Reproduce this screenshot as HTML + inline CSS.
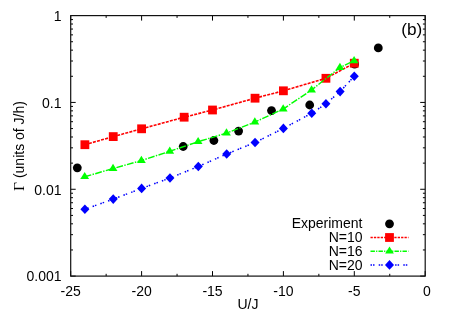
<!DOCTYPE html><html><head><meta charset="utf-8"><style>html,body{margin:0;padding:0;background:#fff;overflow:hidden}svg{display:block;will-change:transform}text{font-family:"Liberation Sans",sans-serif;font-size:14px;fill:#000}</style></head><body>
<svg width="450" height="314" viewBox="0 0 450 314">
<rect width="450" height="314" fill="#fff"/>
<path d="M70.70 276.10h5.00 M425.20 276.10h-5.00 M70.70 249.96h2.30 M425.20 249.96h-2.30 M70.70 234.67h2.30 M425.20 234.67h-2.30 M70.70 223.82h2.30 M425.20 223.82h-2.30 M70.70 215.41h2.30 M425.20 215.41h-2.30 M70.70 208.53h2.30 M425.20 208.53h-2.30 M70.70 202.72h2.30 M425.20 202.72h-2.30 M70.70 197.68h2.30 M425.20 197.68h-2.30 M70.70 193.24h2.30 M425.20 193.24h-2.30 M70.70 189.27h5.00 M425.20 189.27h-5.00 M70.70 163.13h2.30 M425.20 163.13h-2.30 M70.70 147.84h2.30 M425.20 147.84h-2.30 M70.70 136.99h2.30 M425.20 136.99h-2.30 M70.70 128.57h2.30 M425.20 128.57h-2.30 M70.70 121.70h2.30 M425.20 121.70h-2.30 M70.70 115.88h2.30 M425.20 115.88h-2.30 M70.70 110.85h2.30 M425.20 110.85h-2.30 M70.70 106.41h2.30 M425.20 106.41h-2.30 M70.70 102.43h5.00 M425.20 102.43h-5.00 M70.70 76.29h2.30 M425.20 76.29h-2.30 M70.70 61.00h2.30 M425.20 61.00h-2.30 M70.70 50.15h2.30 M425.20 50.15h-2.30 M70.70 41.74h2.30 M425.20 41.74h-2.30 M70.70 34.86h2.30 M425.20 34.86h-2.30 M70.70 29.05h2.30 M425.20 29.05h-2.30 M70.70 24.02h2.30 M425.20 24.02h-2.30 M70.70 19.57h2.30 M425.20 19.57h-2.30 M70.70 276.10v-5.00 M70.70 15.60v5.00 M106.15 276.10v-2.30 M106.15 15.60v2.30 M141.60 276.10v-5.00 M141.60 15.60v5.00 M177.05 276.10v-2.30 M177.05 15.60v2.30 M212.50 276.10v-5.00 M212.50 15.60v5.00 M247.95 276.10v-2.30 M247.95 15.60v2.30 M283.40 276.10v-5.00 M283.40 15.60v5.00 M318.85 276.10v-2.30 M318.85 15.60v2.30 M354.30 276.10v-5.00 M354.30 15.60v5.00 M389.75 276.10v-2.30 M389.75 15.60v2.30 M425.20 276.10v-5.00 M425.20 15.60v5.00" stroke="#000" stroke-width="1" fill="none"/>
<rect x="70.70" y="15.60" width="354.50" height="260.50" fill="none" stroke="#111" stroke-width="1.2"/>
<text x="61.5" y="281.40" text-anchor="end">0.001</text>
<text x="61.5" y="194.57" text-anchor="end">0.01</text>
<text x="61.5" y="107.73" text-anchor="end">0.1</text>
<text x="61.5" y="20.90" text-anchor="end">1</text>
<text x="70.70" y="296" text-anchor="middle">-25</text>
<text x="141.60" y="296" text-anchor="middle">-20</text>
<text x="212.50" y="296" text-anchor="middle">-15</text>
<text x="283.40" y="296" text-anchor="middle">-10</text>
<text x="354.30" y="296" text-anchor="middle">-5</text>
<text x="426.80" y="296" text-anchor="middle">0</text>
<text x="248" y="309.2" text-anchor="middle">U/J</text>
<text transform="translate(24.2 146) rotate(-90)" text-anchor="middle"><tspan font-family="Liberation Serif" style="font-size:15.5px">Γ</tspan> (units of J/h)</text>
<text x="422.3" y="34.6" text-anchor="end" style="font-size:17.2px">(b)</text>
<circle cx="77.30" cy="167.80" r="4.4" fill="#000"/>
<circle cx="183.20" cy="146.50" r="4.4" fill="#000"/>
<circle cx="213.90" cy="140.50" r="4.4" fill="#000"/>
<circle cx="238.60" cy="131.10" r="4.4" fill="#000"/>
<circle cx="271.50" cy="110.60" r="4.4" fill="#000"/>
<circle cx="309.70" cy="105.00" r="4.4" fill="#000"/>
<circle cx="354.60" cy="64.10" r="4.4" fill="#000"/>
<circle cx="378.30" cy="47.90" r="4.4" fill="#000"/>
<polyline points="84.88,144.70 113.24,136.60 141.60,128.80 184.14,117.20 212.50,110.00 255.04,98.20 283.40,90.80 325.94,78.30 354.30,63.20" fill="none" stroke="#f00" stroke-width="1.6" stroke-dasharray="3 1.2"/>
<rect x="80.48" y="140.30" width="8.8" height="8.8" fill="#f00"/>
<rect x="108.84" y="132.20" width="8.8" height="8.8" fill="#f00"/>
<rect x="137.20" y="124.40" width="8.8" height="8.8" fill="#f00"/>
<rect x="179.74" y="112.80" width="8.8" height="8.8" fill="#f00"/>
<rect x="208.10" y="105.60" width="8.8" height="8.8" fill="#f00"/>
<rect x="250.64" y="93.80" width="8.8" height="8.8" fill="#f00"/>
<rect x="279.00" y="86.40" width="8.8" height="8.8" fill="#f00"/>
<rect x="321.54" y="73.90" width="8.8" height="8.8" fill="#f00"/>
<rect x="349.90" y="58.80" width="8.8" height="8.8" fill="#f00"/>
<polyline points="84.68,176.70 113.04,168.60 141.40,160.50 169.76,151.30 198.12,141.70 226.48,133.10 254.84,122.10 283.20,109.00 311.56,90.00 339.92,67.50 354.10,60.80" fill="none" stroke="#0f0" stroke-width="1.45" stroke-dasharray="6.8 1.4 1.4 1.4"/>
<path d="M84.68 171.90l4.4 7.2h-8.8z" fill="#0f0"/>
<path d="M113.04 163.80l4.4 7.2h-8.8z" fill="#0f0"/>
<path d="M141.40 155.70l4.4 7.2h-8.8z" fill="#0f0"/>
<path d="M169.76 146.50l4.4 7.2h-8.8z" fill="#0f0"/>
<path d="M198.12 136.90l4.4 7.2h-8.8z" fill="#0f0"/>
<path d="M226.48 128.30l4.4 7.2h-8.8z" fill="#0f0"/>
<path d="M254.84 117.30l4.4 7.2h-8.8z" fill="#0f0"/>
<path d="M283.20 104.20l4.4 7.2h-8.8z" fill="#0f0"/>
<path d="M311.56 85.20l4.4 7.2h-8.8z" fill="#0f0"/>
<path d="M339.92 62.70l4.4 7.2h-8.8z" fill="#0f0"/>
<path d="M354.10 56.00l4.4 7.2h-8.8z" fill="#0f0"/>
<polyline points="84.88,209.20 113.24,199.10 141.60,188.40 169.96,178.00 198.32,166.50 226.68,154.00 255.04,142.50 283.40,128.40 311.76,113.20 325.94,103.70 340.12,91.60 354.30,76.20" fill="none" stroke="#00f" stroke-width="1.5" stroke-dasharray="1.5 1 1.5 4.2"/>
<path d="M84.88 204.40l4.5 4.8l-4.5 4.8l-4.5 -4.8z" fill="#00f"/>
<path d="M113.24 194.30l4.5 4.8l-4.5 4.8l-4.5 -4.8z" fill="#00f"/>
<path d="M141.60 183.60l4.5 4.8l-4.5 4.8l-4.5 -4.8z" fill="#00f"/>
<path d="M169.96 173.20l4.5 4.8l-4.5 4.8l-4.5 -4.8z" fill="#00f"/>
<path d="M198.32 161.70l4.5 4.8l-4.5 4.8l-4.5 -4.8z" fill="#00f"/>
<path d="M226.68 149.20l4.5 4.8l-4.5 4.8l-4.5 -4.8z" fill="#00f"/>
<path d="M255.04 137.70l4.5 4.8l-4.5 4.8l-4.5 -4.8z" fill="#00f"/>
<path d="M283.40 123.60l4.5 4.8l-4.5 4.8l-4.5 -4.8z" fill="#00f"/>
<path d="M311.76 108.40l4.5 4.8l-4.5 4.8l-4.5 -4.8z" fill="#00f"/>
<path d="M325.94 98.90l4.5 4.8l-4.5 4.8l-4.5 -4.8z" fill="#00f"/>
<path d="M340.12 86.80l4.5 4.8l-4.5 4.8l-4.5 -4.8z" fill="#00f"/>
<path d="M354.30 71.40l4.5 4.8l-4.5 4.8l-4.5 -4.8z" fill="#00f"/>
<text x="362.5" y="228.40" text-anchor="end">Experiment</text>
<text x="362.5" y="242.10" text-anchor="end">N=10</text>
<text x="362.5" y="255.80" text-anchor="end">N=16</text>
<text x="362.5" y="269.50" text-anchor="end">N=20</text>
<circle cx="389.50" cy="223.80" r="4.4" fill="#000"/>
<polyline points="370.50,237.50 408.50,237.50" fill="none" stroke="#f00" stroke-width="1.6" stroke-dasharray="2.3 1.1"/>
<rect x="385.10" y="233.10" width="8.8" height="8.8" fill="#f00"/>
<polyline points="370.50,251.20 408.50,251.20" fill="none" stroke="#0f0" stroke-width="1.45" stroke-dasharray="4.4 1.2 1.2 1.2"/>
<path d="M389.50 246.40l4.4 7.2h-8.8z" fill="#0f0"/>
<polyline points="370.50,264.90 408.50,264.90" fill="none" stroke="#00f" stroke-width="1.5" stroke-dasharray="1.5 1 1.5 4.2"/>
<path d="M389.50 260.10l4.5 4.8l-4.5 4.8l-4.5 -4.8z" fill="#00f"/>
</svg></body></html>
